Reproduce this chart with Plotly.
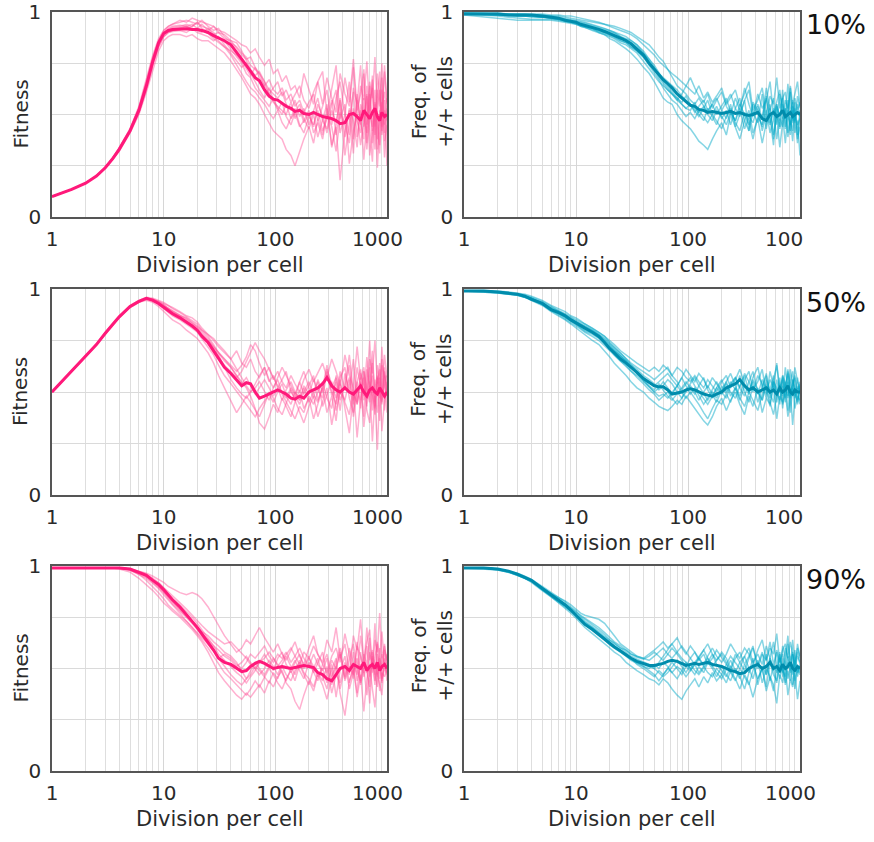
import plotly.graph_objects as go

# ---------------- data ----------------
X = [1, 1.5, 2, 2.5, 3, 3.5, 4, 5, 6, 7, 8, 9, 10, 11, 12, 14, 16, 18, 20, 22, 25, 28, 31, 35, 40, 45, 50, 55,
     60, 66, 72, 80, 88, 96, 105, 115, 125, 138, 150, 165, 180, 200, 220, 240, 265, 290, 320, 350, 380, 420,
     460, 500, 540, 580, 620, 660, 700, 740, 780, 820, 860, 900, 950, 1000]

fit10_mean = [0.10,0.135,0.165,0.20,0.24,0.285,0.33,0.42,0.52,0.64,0.76,0.85,0.895,0.91,0.915,0.918,0.918,0.915,0.915,0.91,0.90,0.885,0.875,0.86,0.84,0.80,0.77,0.74,0.71,0.68,0.665,0.62,0.59,0.575,0.57,0.555,0.54,0.53,0.515,0.52,0.505,0.50,0.51,0.50,0.49,0.485,0.48,0.47,0.455,0.46,0.50,0.505,0.49,0.47,0.52,0.50,0.48,0.51,0.53,0.49,0.47,0.51,0.49,0.50]
fit10_r1 = [0.10,0.135,0.165,0.20,0.24,0.29,0.34,0.43,0.54,0.67,0.79,0.87,0.91,0.93,0.94,0.95,0.96,0.95,0.94,0.96,0.93,0.91,0.92,0.88,0.85,0.83,0.80,0.78,0.74,0.72,0.70,0.66,0.62,0.60,0.58,0.61,0.55,0.52,0.57,0.49,0.53,0.45,0.52,0.58,0.47,0.43,0.55,0.62,0.41,0.50,0.66,0.38,0.57,0.45,0.70,0.36,0.55,0.63,0.33,0.58,0.71,0.40,0.52,0.47]
fit10_r2 = [0.10,0.135,0.165,0.20,0.24,0.28,0.32,0.41,0.50,0.61,0.72,0.81,0.86,0.88,0.89,0.89,0.88,0.89,0.87,0.86,0.86,0.84,0.82,0.80,0.76,0.72,0.68,0.64,0.60,0.58,0.55,0.50,0.46,0.42,0.40,0.38,0.33,0.30,0.25,0.32,0.38,0.44,0.36,0.48,0.40,0.53,0.35,0.45,0.58,0.30,0.47,0.61,0.39,0.52,0.28,0.49,0.64,0.42,0.55,0.33,0.50,0.68,0.37,0.45]
fit10_r3 = [0.10,0.135,0.165,0.20,0.245,0.29,0.335,0.43,0.53,0.66,0.78,0.86,0.91,0.93,0.94,0.96,0.95,0.97,0.96,0.95,0.94,0.93,0.91,0.90,0.88,0.86,0.84,0.83,0.80,0.82,0.78,0.74,0.77,0.70,0.72,0.66,0.69,0.62,0.64,0.58,0.70,0.62,0.55,0.66,0.71,0.50,0.63,0.74,0.48,0.68,0.56,0.77,0.52,0.60,0.72,0.45,0.66,0.58,0.78,0.51,0.62,0.44,0.71,0.55]
fit10_r4 = [0.10,0.135,0.165,0.20,0.24,0.285,0.33,0.42,0.52,0.64,0.76,0.84,0.89,0.905,0.91,0.915,0.92,0.93,0.95,0.93,0.92,0.90,0.87,0.86,0.82,0.78,0.75,0.70,0.68,0.63,0.60,0.57,0.54,0.58,0.53,0.50,0.55,0.48,0.51,0.44,0.47,0.52,0.41,0.46,0.38,0.50,0.44,0.32,0.48,0.55,0.26,0.42,0.50,0.35,0.46,0.60,0.30,0.43,0.52,0.24,0.47,0.56,0.29,0.50]
fit10_r5 = [0.10,0.135,0.165,0.20,0.24,0.28,0.325,0.415,0.51,0.62,0.74,0.83,0.88,0.90,0.91,0.92,0.93,0.92,0.91,0.90,0.92,0.89,0.90,0.87,0.86,0.82,0.79,0.77,0.78,0.73,0.70,0.64,0.67,0.62,0.60,0.63,0.57,0.60,0.54,0.57,0.51,0.56,0.60,0.47,0.54,0.62,0.45,0.58,0.66,0.50,0.40,0.63,0.55,0.74,0.44,0.59,0.48,0.69,0.40,0.62,0.54,0.75,0.45,0.58]
fit10_r6 = [0.10,0.135,0.165,0.20,0.24,0.285,0.335,0.425,0.525,0.645,0.765,0.85,0.90,0.92,0.93,0.935,0.93,0.94,0.92,0.94,0.91,0.93,0.90,0.89,0.86,0.85,0.81,0.76,0.72,0.69,0.71,0.66,0.60,0.56,0.54,0.52,0.50,0.56,0.48,0.53,0.46,0.50,0.44,0.55,0.49,0.41,0.52,0.46,0.57,0.39,0.53,0.47,0.34,0.55,0.49,0.41,0.60,0.36,0.52,0.46,0.31,0.54,0.61,0.49]
fit10_r7 = [0.10,0.135,0.165,0.20,0.24,0.285,0.33,0.42,0.52,0.63,0.75,0.83,0.88,0.90,0.905,0.91,0.90,0.92,0.90,0.89,0.88,0.86,0.88,0.84,0.80,0.76,0.73,0.75,0.70,0.66,0.62,0.58,0.63,0.57,0.52,0.56,0.49,0.45,0.51,0.55,0.48,0.43,0.50,0.39,0.47,0.55,0.34,0.44,0.18,0.42,0.52,0.31,0.60,0.46,0.38,0.64,0.43,0.27,0.56,0.48,0.35,0.62,0.41,0.53]
fit10_r8 = [0.10,0.135,0.165,0.20,0.24,0.285,0.335,0.425,0.53,0.65,0.77,0.855,0.90,0.915,0.925,0.93,0.94,0.93,0.95,0.92,0.90,0.88,0.86,0.83,0.81,0.79,0.76,0.72,0.69,0.73,0.68,0.64,0.60,0.63,0.66,0.59,0.62,0.56,0.60,0.64,0.57,0.53,0.61,0.66,0.55,0.68,0.58,0.51,0.70,0.60,0.54,0.73,0.49,0.64,0.57,0.76,0.52,0.67,0.44,0.70,0.59,0.50,0.74,0.56]
fit10_r9 = [0.10,0.135,0.165,0.20,0.24,0.285,0.33,0.42,0.52,0.64,0.76,0.85,0.895,0.91,0.92,0.925,0.93,0.915,0.92,0.91,0.895,0.87,0.85,0.83,0.79,0.74,0.70,0.66,0.63,0.61,0.58,0.55,0.51,0.48,0.52,0.46,0.43,0.48,0.53,0.45,0.41,0.49,0.45,0.52,0.42,0.48,0.57,0.40,0.51,0.45,0.36,0.53,0.47,0.41,0.58,0.33,0.50,0.44,0.62,0.38,0.52,0.42,0.57,0.25]

frq10_mean = [0.99,0.99,0.99,0.985,0.985,0.985,0.985,0.98,0.975,0.97,0.96,0.955,0.95,0.94,0.935,0.925,0.915,0.905,0.895,0.885,0.87,0.86,0.845,0.82,0.79,0.75,0.72,0.69,0.67,0.65,0.63,0.60,0.58,0.56,0.545,0.54,0.525,0.52,0.51,0.515,0.51,0.505,0.51,0.515,0.505,0.51,0.50,0.495,0.50,0.51,0.48,0.47,0.50,0.51,0.49,0.50,0.52,0.49,0.50,0.51,0.49,0.50,0.51,0.50]
frq10_r1 = [0.99,0.985,0.98,0.975,0.97,0.965,0.965,0.965,0.965,0.96,0.955,0.95,0.945,0.93,0.925,0.91,0.90,0.89,0.88,0.87,0.85,0.84,0.82,0.80,0.76,0.72,0.69,0.66,0.64,0.62,0.60,0.58,0.55,0.53,0.52,0.56,0.50,0.47,0.53,0.49,0.45,0.52,0.48,0.55,0.44,0.50,0.57,0.42,0.51,0.46,0.60,0.43,0.53,0.38,0.55,0.47,0.62,0.44,0.52,0.40,0.57,0.49,0.36,0.50]
frq10_r2 = [0.995,0.995,0.995,0.99,0.99,0.99,0.99,0.99,0.985,0.985,0.98,0.98,0.975,0.97,0.965,0.955,0.95,0.94,0.935,0.93,0.92,0.91,0.90,0.88,0.86,0.84,0.81,0.78,0.76,0.72,0.68,0.64,0.62,0.60,0.57,0.55,0.58,0.54,0.51,0.55,0.58,0.52,0.56,0.60,0.53,0.49,0.57,0.62,0.50,0.55,0.48,0.63,0.52,0.58,0.45,0.60,0.54,0.49,0.65,0.51,0.56,0.46,0.59,0.53]
frq10_r3 = [0.99,0.99,0.99,0.985,0.985,0.98,0.98,0.975,0.97,0.965,0.96,0.955,0.95,0.94,0.93,0.92,0.90,0.89,0.87,0.86,0.84,0.82,0.80,0.77,0.73,0.70,0.66,0.62,0.58,0.56,0.55,0.50,0.47,0.45,0.43,0.40,0.37,0.35,0.33,0.38,0.42,0.46,0.40,0.50,0.44,0.38,0.47,0.52,0.41,0.48,0.36,0.45,0.55,0.40,0.49,0.34,0.46,0.53,0.39,0.47,0.42,0.56,0.38,0.44]
frq10_r4 = [0.995,0.99,0.99,0.99,0.99,0.99,0.985,0.985,0.98,0.98,0.975,0.97,0.965,0.96,0.955,0.95,0.945,0.94,0.93,0.92,0.91,0.90,0.89,0.87,0.84,0.81,0.79,0.76,0.74,0.72,0.70,0.68,0.66,0.64,0.62,0.60,0.64,0.58,0.61,0.56,0.59,0.63,0.55,0.58,0.62,0.54,0.60,0.66,0.52,0.57,0.63,0.50,0.59,0.55,0.68,0.53,0.58,0.61,0.50,0.64,0.55,0.60,0.66,0.54]
frq10_r5 = [0.985,0.975,0.97,0.965,0.96,0.96,0.96,0.96,0.96,0.955,0.95,0.945,0.94,0.93,0.925,0.915,0.905,0.895,0.885,0.875,0.86,0.85,0.83,0.81,0.78,0.75,0.72,0.70,0.68,0.66,0.64,0.62,0.59,0.57,0.55,0.53,0.51,0.54,0.50,0.47,0.52,0.49,0.45,0.51,0.47,0.53,0.43,0.49,0.46,0.54,0.42,0.50,0.45,0.52,0.38,0.48,0.44,0.53,0.41,0.49,0.37,0.51,0.45,0.48]
frq10_r6 = [0.99,0.99,0.985,0.985,0.98,0.98,0.98,0.975,0.975,0.97,0.965,0.96,0.955,0.95,0.945,0.935,0.925,0.915,0.91,0.90,0.88,0.87,0.86,0.84,0.81,0.77,0.73,0.69,0.66,0.63,0.60,0.57,0.55,0.53,0.55,0.51,0.54,0.57,0.52,0.55,0.50,0.54,0.58,0.51,0.47,0.55,0.50,0.45,0.56,0.52,0.48,0.58,0.46,0.53,0.50,0.44,0.55,0.48,0.57,0.42,0.52,0.47,0.55,0.49]
frq10_r7 = [0.99,0.985,0.985,0.98,0.98,0.98,0.975,0.975,0.97,0.965,0.96,0.955,0.95,0.945,0.94,0.93,0.92,0.91,0.90,0.895,0.88,0.865,0.85,0.83,0.80,0.77,0.74,0.70,0.67,0.64,0.61,0.58,0.56,0.59,0.55,0.52,0.49,0.53,0.57,0.50,0.54,0.48,0.52,0.45,0.53,0.58,0.47,0.42,0.55,0.50,0.44,0.59,0.48,0.35,0.54,0.49,0.58,0.43,0.51,0.61,0.46,0.53,0.40,0.52]
frq10_r8 = [0.995,0.99,0.99,0.99,0.985,0.985,0.985,0.98,0.98,0.975,0.97,0.965,0.96,0.955,0.95,0.94,0.93,0.92,0.91,0.90,0.89,0.88,0.86,0.84,0.80,0.76,0.72,0.68,0.65,0.62,0.60,0.57,0.60,0.64,0.68,0.63,0.59,0.56,0.60,0.53,0.57,0.61,0.54,0.50,0.58,0.52,0.63,0.55,0.49,0.60,0.53,0.57,0.66,0.50,0.56,0.62,0.48,0.57,0.53,0.63,0.47,0.58,0.52,0.56]
frq10_r9 = [0.99,0.99,0.985,0.985,0.98,0.98,0.98,0.975,0.97,0.965,0.955,0.95,0.94,0.935,0.93,0.92,0.91,0.90,0.89,0.88,0.86,0.85,0.83,0.81,0.78,0.74,0.70,0.67,0.63,0.60,0.57,0.55,0.52,0.49,0.51,0.48,0.52,0.49,0.46,0.50,0.47,0.43,0.49,0.53,0.46,0.42,0.51,0.47,0.38,0.49,0.45,0.52,0.41,0.47,0.55,0.43,0.49,0.36,0.50,0.45,0.54,0.41,0.47,0.30]

fit50_mean = [0.50,0.60,0.67,0.73,0.785,0.83,0.865,0.915,0.94,0.955,0.945,0.93,0.91,0.895,0.88,0.86,0.84,0.82,0.80,0.77,0.74,0.70,0.66,0.62,0.59,0.56,0.53,0.545,0.54,0.50,0.47,0.48,0.49,0.50,0.51,0.50,0.49,0.47,0.465,0.48,0.47,0.50,0.51,0.52,0.54,0.57,0.53,0.51,0.50,0.52,0.50,0.49,0.51,0.53,0.50,0.48,0.51,0.52,0.50,0.49,0.52,0.50,0.48,0.50]
fit50_r1 = [0.50,0.60,0.67,0.73,0.785,0.83,0.865,0.915,0.94,0.955,0.95,0.94,0.93,0.92,0.91,0.89,0.87,0.86,0.84,0.81,0.78,0.75,0.72,0.69,0.66,0.70,0.64,0.62,0.66,0.60,0.57,0.62,0.55,0.58,0.52,0.56,0.60,0.50,0.47,0.55,0.49,0.53,0.58,0.46,0.52,0.63,0.48,0.55,0.41,0.59,0.50,0.66,0.44,0.57,0.38,0.61,0.52,0.70,0.45,0.55,0.36,0.63,0.58,0.50]
fit50_r2 = [0.50,0.60,0.67,0.73,0.785,0.83,0.865,0.91,0.935,0.945,0.935,0.915,0.89,0.87,0.85,0.83,0.80,0.78,0.76,0.73,0.69,0.64,0.58,0.52,0.46,0.40,0.44,0.48,0.45,0.41,0.38,0.44,0.50,0.47,0.42,0.39,0.45,0.51,0.46,0.40,0.35,0.43,0.48,0.38,0.45,0.52,0.34,0.46,0.56,0.42,0.30,0.49,0.44,0.55,0.33,0.47,0.53,0.26,0.48,0.40,0.57,0.31,0.46,0.52]
fit50_r3 = [0.50,0.60,0.67,0.735,0.79,0.835,0.87,0.92,0.945,0.96,0.955,0.945,0.935,0.92,0.905,0.885,0.865,0.85,0.83,0.80,0.77,0.73,0.69,0.65,0.62,0.58,0.55,0.52,0.48,0.42,0.35,0.32,0.38,0.44,0.40,0.47,0.43,0.38,0.45,0.51,0.42,0.47,0.37,0.44,0.52,0.40,0.48,0.36,0.54,0.45,0.39,0.52,0.28,0.46,0.57,0.41,0.35,0.53,0.47,0.22,0.50,0.44,0.58,0.40]
fit50_r4 = [0.50,0.60,0.67,0.73,0.78,0.825,0.86,0.91,0.935,0.95,0.945,0.935,0.92,0.91,0.895,0.875,0.855,0.835,0.815,0.79,0.76,0.72,0.69,0.66,0.63,0.60,0.63,0.67,0.73,0.70,0.64,0.58,0.62,0.56,0.60,0.55,0.52,0.58,0.54,0.50,0.56,0.61,0.55,0.59,0.64,0.57,0.66,0.60,0.53,0.68,0.58,0.52,0.72,0.56,0.62,0.48,0.66,0.59,0.75,0.54,0.61,0.50,0.68,0.57]
fit50_r5 = [0.50,0.60,0.67,0.73,0.785,0.83,0.865,0.915,0.94,0.955,0.945,0.93,0.91,0.90,0.89,0.87,0.86,0.84,0.82,0.80,0.78,0.76,0.73,0.70,0.66,0.61,0.57,0.53,0.50,0.52,0.55,0.50,0.46,0.52,0.56,0.49,0.45,0.41,0.37,0.43,0.40,0.48,0.44,0.50,0.55,0.47,0.42,0.58,0.49,0.53,0.63,0.46,0.55,0.42,0.60,0.52,0.45,0.64,0.50,0.57,0.47,0.72,0.53,0.49]
fit50_r6 = [0.50,0.60,0.67,0.73,0.785,0.83,0.865,0.915,0.94,0.955,0.95,0.94,0.925,0.905,0.885,0.86,0.84,0.82,0.795,0.77,0.74,0.71,0.68,0.62,0.56,0.52,0.49,0.47,0.50,0.54,0.58,0.62,0.56,0.52,0.57,0.62,0.58,0.53,0.49,0.55,0.60,0.52,0.47,0.56,0.50,0.61,0.54,0.47,0.60,0.51,0.57,0.44,0.62,0.53,0.48,0.67,0.51,0.58,0.42,0.63,0.55,0.48,0.60,0.52]
fit50_r7 = [0.50,0.60,0.67,0.73,0.785,0.83,0.865,0.915,0.94,0.955,0.95,0.935,0.915,0.90,0.885,0.865,0.845,0.825,0.80,0.78,0.75,0.71,0.67,0.63,0.60,0.57,0.60,0.65,0.69,0.74,0.70,0.66,0.61,0.57,0.53,0.50,0.47,0.52,0.48,0.44,0.50,0.55,0.49,0.45,0.53,0.58,0.50,0.44,0.57,0.62,0.47,0.40,0.55,0.61,0.46,0.53,0.75,0.49,0.43,0.58,0.52,0.66,0.41,0.55]
fit50_r8 = [0.50,0.60,0.67,0.73,0.785,0.83,0.865,0.915,0.94,0.955,0.945,0.925,0.905,0.885,0.87,0.85,0.83,0.81,0.79,0.76,0.72,0.68,0.63,0.58,0.54,0.50,0.47,0.44,0.41,0.38,0.42,0.46,0.49,0.45,0.50,0.54,0.48,0.44,0.50,0.46,0.52,0.45,0.50,0.55,0.43,0.49,0.55,0.41,0.50,0.46,0.56,0.38,0.51,0.46,0.60,0.43,0.55,0.48,0.39,0.57,0.50,0.45,0.62,0.48]
fit50_r9 = [0.50,0.60,0.67,0.73,0.785,0.83,0.865,0.915,0.94,0.955,0.95,0.935,0.92,0.905,0.89,0.87,0.85,0.83,0.81,0.78,0.75,0.72,0.69,0.66,0.62,0.58,0.54,0.57,0.53,0.49,0.52,0.56,0.52,0.48,0.52,0.46,0.51,0.55,0.50,0.46,0.53,0.49,0.56,0.51,0.47,0.60,0.52,0.57,0.46,0.53,0.68,0.50,0.45,0.59,0.53,0.47,0.62,0.41,0.56,0.51,0.64,0.46,0.53,0.58]

frq50_mean = [0.99,0.99,0.985,0.98,0.975,0.965,0.95,0.93,0.90,0.885,0.87,0.85,0.835,0.82,0.81,0.79,0.77,0.74,0.71,0.69,0.66,0.64,0.62,0.595,0.565,0.545,0.53,0.525,0.525,0.51,0.49,0.495,0.50,0.51,0.515,0.51,0.50,0.49,0.485,0.48,0.49,0.50,0.52,0.53,0.54,0.56,0.53,0.51,0.52,0.50,0.51,0.52,0.50,0.51,0.49,0.52,0.50,0.51,0.53,0.50,0.49,0.51,0.50,0.50]
frq50_r1 = [0.99,0.99,0.985,0.98,0.975,0.965,0.955,0.935,0.91,0.895,0.88,0.865,0.85,0.84,0.83,0.81,0.79,0.77,0.75,0.73,0.70,0.68,0.66,0.64,0.62,0.60,0.62,0.60,0.63,0.61,0.58,0.62,0.60,0.57,0.55,0.58,0.55,0.52,0.56,0.53,0.50,0.55,0.58,0.52,0.56,0.61,0.54,0.50,0.57,0.62,0.52,0.58,0.47,0.56,0.63,0.51,0.57,0.45,0.60,0.54,0.49,0.62,0.55,0.51]
frq50_r2 = [0.99,0.985,0.98,0.975,0.97,0.96,0.945,0.92,0.89,0.87,0.85,0.83,0.81,0.795,0.78,0.75,0.73,0.70,0.67,0.64,0.61,0.58,0.55,0.52,0.50,0.47,0.45,0.43,0.42,0.41,0.43,0.46,0.44,0.48,0.45,0.42,0.39,0.36,0.34,0.38,0.43,0.47,0.41,0.46,0.50,0.44,0.39,0.48,0.43,0.52,0.40,0.47,0.44,0.53,0.37,0.48,0.45,0.55,0.41,0.50,0.34,0.47,0.52,0.44]
frq50_r3 = [0.99,0.99,0.99,0.985,0.98,0.975,0.965,0.945,0.92,0.905,0.89,0.87,0.86,0.845,0.83,0.81,0.79,0.77,0.74,0.72,0.69,0.66,0.63,0.60,0.57,0.55,0.53,0.55,0.57,0.59,0.56,0.53,0.57,0.61,0.58,0.55,0.59,0.56,0.52,0.57,0.54,0.50,0.55,0.59,0.53,0.48,0.56,0.60,0.51,0.55,0.61,0.49,0.56,0.52,0.64,0.50,0.58,0.54,0.48,0.61,0.53,0.58,0.50,0.55]
frq50_r4 = [0.99,0.99,0.985,0.98,0.975,0.965,0.955,0.93,0.905,0.885,0.865,0.845,0.83,0.81,0.795,0.78,0.76,0.735,0.71,0.68,0.65,0.62,0.60,0.58,0.55,0.52,0.50,0.48,0.49,0.47,0.50,0.53,0.50,0.47,0.50,0.47,0.44,0.40,0.37,0.42,0.46,0.44,0.49,0.45,0.52,0.47,0.43,0.50,0.46,0.41,0.49,0.53,0.45,0.39,0.48,0.54,0.44,0.50,0.38,0.47,0.53,0.42,0.48,0.46]
frq50_r5 = [0.99,0.99,0.985,0.98,0.97,0.96,0.95,0.925,0.895,0.88,0.86,0.845,0.825,0.815,0.80,0.785,0.765,0.745,0.72,0.70,0.67,0.65,0.62,0.59,0.56,0.53,0.51,0.54,0.51,0.48,0.46,0.49,0.52,0.55,0.52,0.49,0.53,0.57,0.51,0.47,0.52,0.56,0.50,0.54,0.57,0.52,0.59,0.55,0.50,0.58,0.54,0.47,0.60,0.53,0.49,0.57,0.42,0.54,0.59,0.48,0.56,0.51,0.45,0.53]
frq50_r6 = [0.99,0.99,0.985,0.98,0.975,0.97,0.96,0.94,0.915,0.895,0.875,0.855,0.84,0.825,0.815,0.795,0.775,0.75,0.725,0.70,0.675,0.65,0.63,0.61,0.58,0.56,0.54,0.51,0.53,0.56,0.54,0.50,0.47,0.51,0.54,0.57,0.53,0.49,0.46,0.50,0.47,0.53,0.49,0.55,0.51,0.58,0.50,0.45,0.53,0.49,0.56,0.51,0.43,0.55,0.50,0.46,0.58,0.52,0.47,0.55,0.60,0.47,0.53,0.50]
frq50_r7 = [0.99,0.99,0.985,0.98,0.975,0.965,0.955,0.93,0.90,0.885,0.87,0.855,0.84,0.83,0.82,0.80,0.78,0.755,0.73,0.71,0.68,0.65,0.62,0.59,0.56,0.53,0.50,0.52,0.55,0.52,0.49,0.53,0.57,0.53,0.49,0.52,0.48,0.44,0.47,0.51,0.55,0.50,0.47,0.53,0.57,0.52,0.48,0.55,0.60,0.50,0.46,0.56,0.51,0.58,0.45,0.53,0.48,0.62,0.51,0.47,0.56,0.52,0.44,0.51]
frq50_r8 = [0.99,0.99,0.985,0.98,0.975,0.965,0.955,0.93,0.905,0.89,0.875,0.86,0.845,0.83,0.82,0.80,0.78,0.76,0.735,0.715,0.685,0.66,0.64,0.62,0.60,0.58,0.56,0.58,0.60,0.62,0.58,0.55,0.51,0.54,0.57,0.53,0.50,0.47,0.44,0.48,0.52,0.49,0.54,0.50,0.47,0.53,0.58,0.50,0.55,0.45,0.53,0.59,0.49,0.55,0.52,0.44,0.56,0.50,0.61,0.48,0.53,0.57,0.46,0.54]
frq50_r9 = [0.99,0.985,0.98,0.975,0.97,0.96,0.95,0.925,0.895,0.875,0.855,0.84,0.82,0.805,0.79,0.77,0.75,0.725,0.70,0.68,0.65,0.63,0.60,0.57,0.54,0.51,0.49,0.46,0.48,0.50,0.47,0.44,0.47,0.50,0.53,0.50,0.46,0.50,0.53,0.49,0.45,0.51,0.55,0.48,0.52,0.46,0.53,0.49,0.56,0.51,0.46,0.54,0.49,0.45,0.56,0.50,0.53,0.47,0.55,0.40,0.52,0.48,0.57,0.49]

fit90_mean = [0.99,0.99,0.99,0.99,0.99,0.99,0.99,0.985,0.97,0.955,0.93,0.91,0.885,0.86,0.835,0.80,0.765,0.73,0.70,0.67,0.63,0.59,0.55,0.53,0.52,0.50,0.485,0.49,0.51,0.525,0.535,0.525,0.51,0.50,0.505,0.51,0.505,0.50,0.505,0.51,0.515,0.51,0.505,0.48,0.47,0.45,0.44,0.47,0.50,0.51,0.49,0.52,0.51,0.50,0.53,0.49,0.51,0.52,0.50,0.53,0.49,0.51,0.52,0.50]
fit90_r1 = [0.99,0.99,0.99,0.99,0.99,0.99,0.99,0.98,0.96,0.93,0.90,0.87,0.84,0.81,0.79,0.76,0.73,0.70,0.67,0.64,0.60,0.56,0.52,0.48,0.45,0.42,0.39,0.37,0.40,0.44,0.41,0.46,0.50,0.47,0.43,0.40,0.45,0.49,0.44,0.52,0.47,0.42,0.50,0.55,0.46,0.40,0.52,0.36,0.49,0.56,0.43,0.51,0.38,0.58,0.46,0.52,0.33,0.55,0.47,0.41,0.60,0.45,0.50,0.48]
fit90_r2 = [0.99,0.99,0.99,0.99,0.99,0.99,0.99,0.985,0.975,0.965,0.95,0.935,0.92,0.90,0.89,0.87,0.86,0.87,0.86,0.84,0.80,0.75,0.71,0.66,0.62,0.58,0.60,0.64,0.62,0.66,0.70,0.65,0.61,0.58,0.62,0.57,0.54,0.59,0.63,0.56,0.52,0.60,0.66,0.57,0.53,0.64,0.58,0.70,0.55,0.62,0.48,0.66,0.59,0.74,0.54,0.63,0.69,0.50,0.64,0.58,0.77,0.55,0.61,0.53]
fit90_r3 = [0.99,0.99,0.99,0.99,0.99,0.99,0.985,0.97,0.94,0.91,0.88,0.85,0.82,0.80,0.78,0.75,0.72,0.69,0.66,0.63,0.58,0.53,0.48,0.44,0.40,0.37,0.35,0.38,0.36,0.39,0.42,0.38,0.44,0.41,0.46,0.49,0.43,0.40,0.34,0.30,0.37,0.44,0.39,0.47,0.42,0.35,0.46,0.51,0.38,0.27,0.44,0.50,0.36,0.47,0.29,0.45,0.52,0.40,0.31,0.48,0.43,0.37,0.55,0.44]
fit90_r4 = [0.99,0.99,0.99,0.99,0.99,0.99,0.99,0.985,0.97,0.95,0.925,0.90,0.875,0.85,0.83,0.79,0.75,0.72,0.69,0.66,0.62,0.58,0.55,0.57,0.55,0.52,0.50,0.53,0.57,0.55,0.58,0.61,0.56,0.53,0.57,0.55,0.58,0.53,0.56,0.60,0.55,0.51,0.57,0.52,0.49,0.55,0.42,0.50,0.58,0.46,0.54,0.62,0.49,0.44,0.57,0.52,0.65,0.48,0.56,0.62,0.45,0.57,0.51,0.53]
fit90_r5 = [0.99,0.99,0.99,0.99,0.99,0.99,0.99,0.98,0.965,0.945,0.92,0.895,0.87,0.84,0.815,0.78,0.75,0.72,0.70,0.68,0.66,0.63,0.61,0.58,0.56,0.53,0.49,0.45,0.47,0.51,0.49,0.46,0.43,0.48,0.45,0.51,0.47,0.44,0.49,0.53,0.48,0.45,0.41,0.48,0.44,0.51,0.38,0.47,0.43,0.53,0.40,0.48,0.55,0.42,0.50,0.37,0.49,0.56,0.44,0.51,0.39,0.48,0.46,0.50]
fit90_r6 = [0.99,0.99,0.99,0.99,0.99,0.99,0.99,0.985,0.975,0.96,0.94,0.92,0.895,0.875,0.855,0.82,0.79,0.76,0.73,0.71,0.68,0.66,0.64,0.62,0.63,0.60,0.57,0.55,0.52,0.50,0.53,0.55,0.58,0.55,0.51,0.54,0.57,0.60,0.56,0.52,0.58,0.55,0.61,0.57,0.52,0.48,0.56,0.60,0.53,0.67,0.57,0.45,0.61,0.56,0.50,0.70,0.54,0.59,0.47,0.63,0.56,0.68,0.52,0.57]
fit90_r7 = [0.99,0.99,0.99,0.99,0.99,0.99,0.99,0.98,0.96,0.94,0.915,0.89,0.86,0.835,0.81,0.77,0.73,0.70,0.67,0.65,0.62,0.59,0.55,0.51,0.47,0.44,0.42,0.45,0.49,0.53,0.50,0.47,0.51,0.55,0.52,0.48,0.44,0.50,0.54,0.49,0.45,0.53,0.48,0.44,0.52,0.57,0.46,0.53,0.60,0.44,0.51,0.47,0.63,0.43,0.54,0.49,0.41,0.58,0.52,0.46,0.56,0.43,0.62,0.49]
fit90_r8 = [0.99,0.99,0.99,0.99,0.99,0.99,0.99,0.985,0.97,0.955,0.935,0.91,0.885,0.86,0.84,0.81,0.78,0.75,0.72,0.69,0.65,0.61,0.57,0.54,0.51,0.48,0.46,0.43,0.46,0.49,0.53,0.57,0.53,0.49,0.55,0.58,0.52,0.48,0.53,0.57,0.51,0.56,0.48,0.53,0.58,0.46,0.54,0.50,0.57,0.45,0.60,0.52,0.47,0.66,0.53,0.48,0.58,0.50,0.72,0.47,0.55,0.50,0.59,0.54]
fit90_r9 = [0.99,0.99,0.99,0.99,0.99,0.99,0.99,0.985,0.97,0.95,0.93,0.905,0.875,0.85,0.825,0.79,0.76,0.73,0.70,0.67,0.64,0.61,0.59,0.56,0.54,0.51,0.53,0.56,0.53,0.50,0.47,0.50,0.54,0.51,0.47,0.52,0.56,0.51,0.47,0.54,0.50,0.55,0.51,0.46,0.50,0.43,0.49,0.55,0.40,0.51,0.47,0.58,0.44,0.52,0.48,0.61,0.46,0.53,0.42,0.57,0.50,0.44,0.53,0.47]

frq90_mean = [0.99,0.99,0.985,0.975,0.96,0.945,0.93,0.89,0.86,0.835,0.81,0.785,0.76,0.735,0.715,0.69,0.665,0.64,0.62,0.605,0.585,0.565,0.55,0.535,0.525,0.515,0.515,0.52,0.525,0.535,0.54,0.535,0.525,0.515,0.52,0.525,0.52,0.525,0.53,0.52,0.515,0.51,0.50,0.49,0.485,0.475,0.48,0.50,0.51,0.52,0.50,0.51,0.53,0.50,0.51,0.49,0.52,0.50,0.51,0.53,0.50,0.49,0.51,0.50]
frq90_r1 = [0.99,0.99,0.985,0.975,0.96,0.945,0.93,0.895,0.865,0.845,0.83,0.81,0.79,0.77,0.76,0.75,0.74,0.72,0.69,0.66,0.62,0.60,0.58,0.56,0.55,0.57,0.59,0.61,0.63,0.60,0.62,0.65,0.60,0.57,0.61,0.58,0.55,0.59,0.62,0.57,0.54,0.58,0.55,0.50,0.57,0.53,0.49,0.55,0.60,0.52,0.58,0.47,0.56,0.63,0.51,0.57,0.46,0.60,0.55,0.49,0.64,0.53,0.58,0.52]
frq90_r2 = [0.99,0.985,0.98,0.97,0.955,0.94,0.925,0.885,0.85,0.82,0.795,0.77,0.745,0.72,0.70,0.67,0.645,0.62,0.60,0.58,0.56,0.53,0.51,0.49,0.47,0.45,0.44,0.42,0.45,0.43,0.40,0.37,0.35,0.39,0.42,0.45,0.41,0.46,0.43,0.48,0.44,0.47,0.43,0.49,0.45,0.40,0.47,0.43,0.36,0.45,0.50,0.39,0.46,0.42,0.33,0.47,0.43,0.50,0.37,0.45,0.41,0.48,0.35,0.44]
frq90_r3 = [0.99,0.99,0.985,0.975,0.96,0.945,0.93,0.89,0.86,0.835,0.81,0.79,0.765,0.745,0.725,0.70,0.675,0.65,0.625,0.61,0.59,0.57,0.55,0.52,0.50,0.48,0.46,0.49,0.47,0.50,0.53,0.50,0.47,0.51,0.49,0.52,0.55,0.51,0.48,0.46,0.50,0.47,0.52,0.48,0.44,0.50,0.46,0.42,0.49,0.54,0.43,0.50,0.46,0.39,0.51,0.45,0.55,0.42,0.49,0.44,0.52,0.40,0.50,0.47]
frq90_r4 = [0.99,0.99,0.985,0.97,0.955,0.94,0.92,0.88,0.85,0.825,0.80,0.78,0.76,0.74,0.72,0.695,0.67,0.645,0.625,0.605,0.58,0.56,0.545,0.53,0.52,0.51,0.50,0.53,0.56,0.59,0.62,0.58,0.55,0.53,0.50,0.53,0.56,0.59,0.55,0.51,0.54,0.57,0.53,0.49,0.55,0.58,0.52,0.56,0.61,0.50,0.57,0.54,0.63,0.52,0.58,0.48,0.61,0.55,0.66,0.51,0.57,0.49,0.62,0.55]
frq90_r5 = [0.99,0.99,0.985,0.975,0.96,0.945,0.93,0.895,0.865,0.84,0.815,0.79,0.77,0.75,0.73,0.705,0.68,0.655,0.635,0.62,0.60,0.58,0.56,0.545,0.53,0.52,0.50,0.48,0.46,0.48,0.51,0.54,0.51,0.48,0.52,0.49,0.47,0.50,0.53,0.57,0.52,0.49,0.46,0.51,0.48,0.53,0.56,0.50,0.45,0.53,0.49,0.57,0.44,0.52,0.48,0.55,0.50,0.43,0.56,0.51,0.47,0.59,0.46,0.52]
frq90_r6 = [0.99,0.99,0.985,0.975,0.965,0.95,0.935,0.90,0.87,0.845,0.825,0.80,0.78,0.755,0.74,0.715,0.69,0.665,0.64,0.625,0.60,0.59,0.57,0.56,0.55,0.54,0.56,0.58,0.60,0.57,0.55,0.58,0.61,0.58,0.55,0.52,0.55,0.52,0.56,0.60,0.56,0.53,0.57,0.62,0.58,0.55,0.60,0.57,0.52,0.59,0.64,0.54,0.60,0.57,0.67,0.53,0.59,0.62,0.55,0.63,0.57,0.52,0.60,0.56]
frq90_r7 = [0.99,0.99,0.985,0.975,0.96,0.945,0.93,0.89,0.86,0.835,0.81,0.785,0.76,0.74,0.72,0.695,0.67,0.645,0.625,0.61,0.59,0.57,0.55,0.53,0.51,0.49,0.47,0.44,0.47,0.50,0.48,0.45,0.49,0.53,0.50,0.47,0.51,0.48,0.53,0.50,0.46,0.51,0.47,0.44,0.50,0.46,0.40,0.48,0.52,0.45,0.50,0.41,0.53,0.47,0.44,0.52,0.48,0.55,0.45,0.50,0.42,0.54,0.48,0.51]
frq90_r8 = [0.99,0.99,0.985,0.975,0.96,0.945,0.93,0.895,0.865,0.84,0.815,0.795,0.775,0.76,0.745,0.725,0.70,0.675,0.65,0.63,0.61,0.59,0.57,0.555,0.545,0.56,0.58,0.56,0.54,0.57,0.60,0.57,0.54,0.51,0.55,0.58,0.54,0.57,0.52,0.55,0.59,0.55,0.52,0.56,0.53,0.50,0.56,0.60,0.53,0.57,0.52,0.61,0.55,0.49,0.59,0.53,0.57,0.51,0.62,0.54,0.58,0.50,0.56,0.53]
frq90_r9 = [0.99,0.99,0.98,0.97,0.955,0.94,0.925,0.885,0.855,0.83,0.805,0.78,0.755,0.735,0.715,0.69,0.665,0.64,0.615,0.60,0.58,0.56,0.54,0.525,0.51,0.50,0.52,0.50,0.53,0.51,0.48,0.51,0.49,0.46,0.49,0.52,0.48,0.51,0.55,0.51,0.48,0.45,0.50,0.54,0.49,0.45,0.52,0.48,0.55,0.42,0.51,0.47,0.55,0.50,0.43,0.58,0.49,0.46,0.53,0.48,0.57,0.44,0.51,0.48]

row_labels = ["10%", "50%", "90%"]
x_title = "Division per cell"
y_title_left = "Fitness"
y_title_right = "Freq. of<br>+/+ cells"
xtick_vals = [1, 10, 100, 1000]
NB = "\u00a0"
xtick_text_left = ["1", "10", "100", "1000" + NB * 3]
xtick_text_right = [["1", "10", "100", "100" + NB * 5],
                    ["1", "10", "100", "100" + NB * 5],
                    ["1", "10", "100", "1000" + NB * 3]]

# ---------------- styling ----------------
W, H = 874, 842
FONT = "DejaVu Sans"
TXT = "#2a2a2a"
PINK, PINK_L = "rgb(255,25,122)", "rgba(255,80,150,0.45)"
TEAL, TEAL_L = "rgb(0,140,172)", "rgba(0,168,198,0.48)"

col_px = [(52, 387), (464, 800)]
row_px = [(12, 217), (289, 495), (566, 771)]

panels = [
    (0, 0, fit10_mean, [fit10_r1, fit10_r2, fit10_r3, fit10_r4, fit10_r5, fit10_r6, fit10_r7, fit10_r8, fit10_r9], PINK, PINK_L),
    (0, 1, frq10_mean, [frq10_r1, frq10_r2, frq10_r3, frq10_r4, frq10_r5, frq10_r6, frq10_r7, frq10_r8, frq10_r9], TEAL, TEAL_L),
    (1, 0, fit50_mean, [fit50_r1, fit50_r2, fit50_r3, fit50_r4, fit50_r5, fit50_r6, fit50_r7, fit50_r8, fit50_r9], PINK, PINK_L),
    (1, 1, frq50_mean, [frq50_r1, frq50_r2, frq50_r3, frq50_r4, frq50_r5, frq50_r6, frq50_r7, frq50_r8, frq50_r9], TEAL, TEAL_L),
    (2, 0, fit90_mean, [fit90_r1, fit90_r2, fit90_r3, fit90_r4, fit90_r5, fit90_r6, fit90_r7, fit90_r8, fit90_r9], PINK, PINK_L),
    (2, 1, frq90_mean, [frq90_r1, frq90_r2, frq90_r3, frq90_r4, frq90_r5, frq90_r6, frq90_r7, frq90_r8, frq90_r9], TEAL, TEAL_L),
]

for p in panels:
    for i, arr in enumerate([p[2]] + p[3]):
        assert len(arr) == len(X), (p[0], p[1], i, len(arr))

minor_x = [m * d for d in (1, 10, 100) for m in range(2, 10)]

fig = go.Figure()
layout = {}
annotations = []
for k, (r, c, mean, reps, col, col_l) in enumerate(panels):
    n = k + 1
    xa = "x" if n == 1 else f"x{n}"
    ya = "y" if n == 1 else f"y{n}"
    for rep in reps:
        fig.add_trace(go.Scatter(x=X, y=rep, mode="lines", line=dict(color=col_l, width=1.5),
                                 xaxis=xa, yaxis=ya, showlegend=False, hoverinfo="skip"))
    fig.add_trace(go.Scatter(x=X, y=mean, mode="lines", line=dict(color=col, width=3),
                             xaxis=xa, yaxis=ya, showlegend=False))
    x0, x1 = col_px[c]
    y0, y1 = row_px[r]
    xkey = "xaxis" if n == 1 else f"xaxis{n}"
    ykey = "yaxis" if n == 1 else f"yaxis{n}"
    ttext = xtick_text_left if c == 0 else xtick_text_right[r]
    layout[xkey] = dict(
        domain=[x0 / W, x1 / W], anchor=ya, type="log", range=[0, 3], automargin=False,
        tickmode="array", tickvals=xtick_vals, ticktext=ttext,
        showgrid=True, gridcolor="#d6d6d6", gridwidth=1,
        minor=dict(tickmode="array", tickvals=minor_x, showgrid=True, gridcolor="#dedede", gridwidth=1, ticklen=0),
        showline=True, linecolor="#555555", linewidth=1.5, mirror=True, ticks="",
        tickfont=dict(family=FONT, size=20, color=TXT), ticklabelstandoff=3, zeroline=False,
    )
    layout[ykey] = dict(
        domain=[1 - y1 / H, 1 - y0 / H], anchor=xa, range=[0, 1], automargin=False,
        tickmode="array", tickvals=[0, 1], ticktext=["0", "1"],
        showgrid=False,
        minor=dict(tickmode="array", tickvals=[0.25, 0.5, 0.75], showgrid=True, gridcolor="#dadada", gridwidth=1, ticklen=0),
        showline=True, linecolor="#555555", linewidth=1.5, mirror=True, ticks="",
        tickfont=dict(family=FONT, size=20, color=TXT), ticklabelstandoff=5, zeroline=False,
    )
    # x title
    annotations.append(dict(text=x_title, xref="paper", yref="paper", x=(x0 + x1) / 2 / W,
                            y=1 - (y1 + 48) / H, showarrow=False, xanchor="center", yanchor="middle",
                            font=dict(family=FONT, size=21, color=TXT)))
    # y title
    if c == 0:
        annotations.append(dict(text=y_title_left, xref="paper", yref="paper", x=20 / W,
                                y=1 - (y0 + y1) / 2 / H, showarrow=False, textangle=-90,
                                xanchor="center", yanchor="middle",
                                font=dict(family=FONT, size=20, color=TXT)))
    else:
        annotations.append(dict(text=y_title_right, xref="paper", yref="paper", x=431 / W,
                                y=1 - ((y0 + y1) / 2 - 12) / H, showarrow=False, textangle=-90,
                                xanchor="center", yanchor="middle",
                                font=dict(family=FONT, size=20, color=TXT)))
        annotations.append(dict(text=row_labels[r], xref="paper", yref="paper", x=836 / W,
                                y=1 - (y0 + 13) / H, showarrow=False, xanchor="center", yanchor="middle",
                                font=dict(family=FONT, size=27, color="#111")))

fig.update_layout(
    width=W, height=H, margin=dict(l=0, r=0, t=0, b=0),
    paper_bgcolor="white", plot_bgcolor="white",
    annotations=annotations, **layout,
)
fig.write_html("out.html")
